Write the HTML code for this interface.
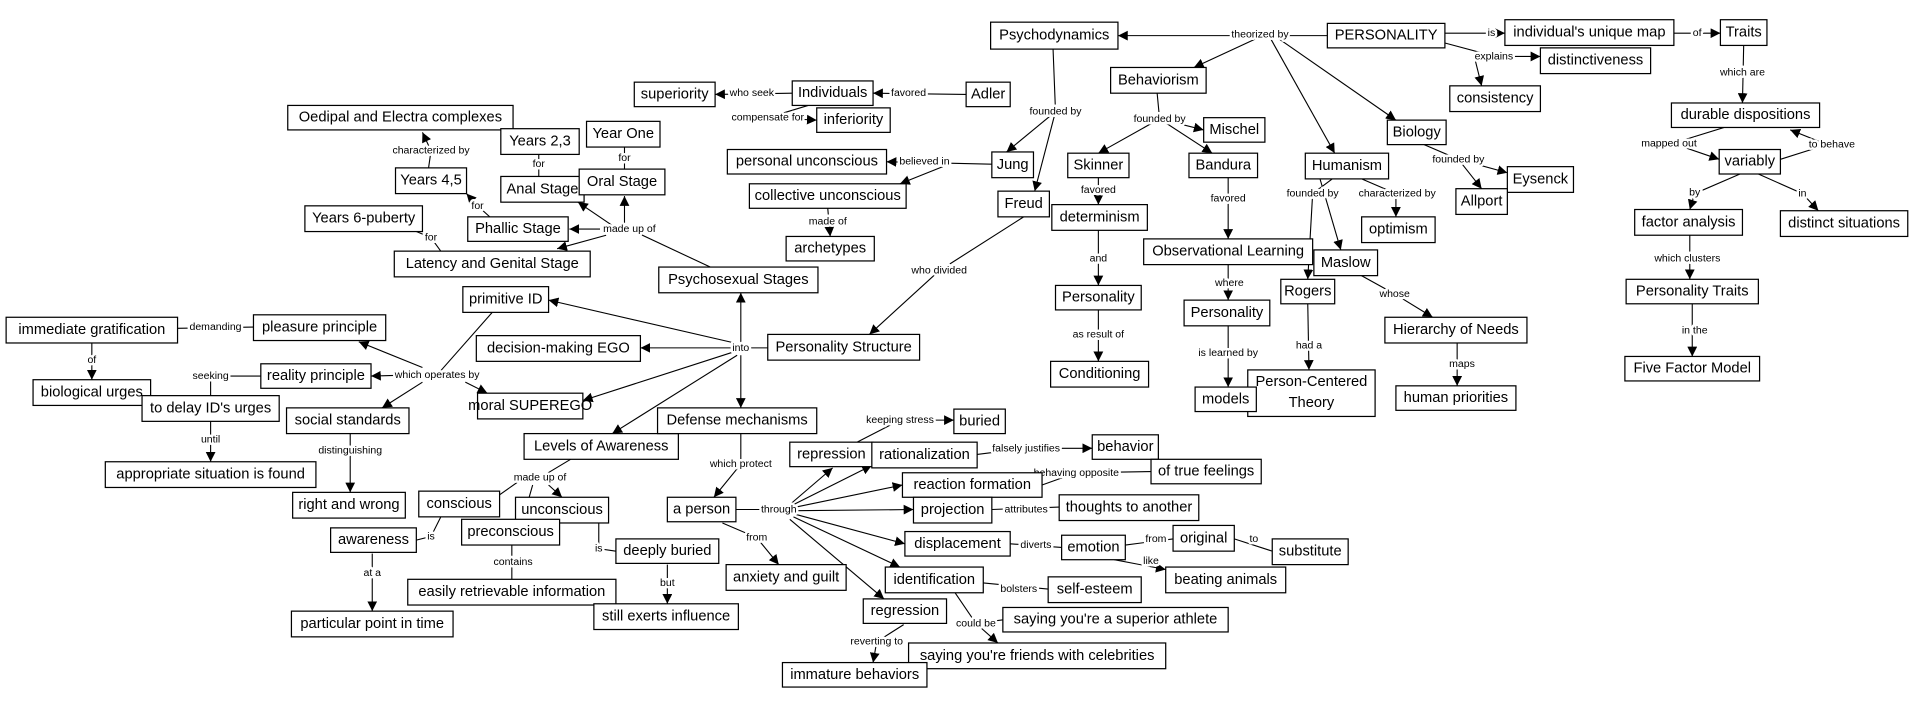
<!DOCTYPE html>
<html><head><meta charset="utf-8"><style>
html,body{margin:0;padding:0;background:#fff;}
svg{display:block;}
.b rect{fill:#fff;stroke:#000;stroke-width:1;}
.b text{font-family:"Liberation Sans",Arial,sans-serif;font-size:12px;text-anchor:middle;dominant-baseline:central;fill:#000;}
.e path{fill:none;stroke:#000;stroke-width:0.9;}
.l{font-family:"Liberation Sans",Arial,sans-serif;font-size:8.6px;text-anchor:middle;dominant-baseline:central;fill:#000;stroke:#fff;stroke-width:4px;paint-order:stroke;stroke-linejoin:round;}
</style></head><body>
<svg width="1920" height="708" viewBox="0 0 1568 578" xmlns="http://www.w3.org/2000/svg">
<defs><marker id="a" viewBox="0 0 10 10" refX="10" refY="5" markerWidth="8" markerHeight="8" markerUnits="userSpaceOnUse" orient="auto"><path d="M0,0 L10,5 L0,10 z" fill="#000"/></marker></defs>
<g class="e">
<path d="M1084,29 L913,29" marker-end="url(#a)"/>
<path d="M1029,30 L975,55" marker-end="url(#a)"/>
<path d="M1038,32 L1090,125" marker-end="url(#a)"/>
<path d="M1045,32 L1140,98" marker-end="url(#a)"/>
<path d="M1180,27 L1229,27" marker-end="url(#a)"/>
<path d="M1367,27 L1405,27" marker-end="url(#a)"/>
<path d="M1180,35 L1221,46 L1258,46" marker-end="url(#a)"/>
<path d="M1205,50 L1210,70" marker-end="url(#a)"/>
<path d="M1424,37 L1423,84" marker-end="url(#a)"/>
<path d="M1408,104 L1366,117 L1404,130" marker-end="url(#a)"/>
<path d="M1454,130 L1492,118 L1462,106" marker-end="url(#a)"/>
<path d="M1421,142 L1384,158 L1380,171" marker-end="url(#a)"/>
<path d="M1436,142 L1472,158 L1485,172" marker-end="url(#a)"/>
<path d="M1380,192 L1380,228" marker-end="url(#a)"/>
<path d="M1382,248 L1382,291" marker-end="url(#a)"/>
<path d="M860,40 L862,91 L845,156" marker-end="url(#a)"/>
<path d="M862,91 L822,124" marker-end="url(#a)"/>
<path d="M945,76 L947,97 L983,106" marker-end="url(#a)"/>
<path d="M947,97 L897,125" marker-end="url(#a)"/>
<path d="M947,97 L990,125" marker-end="url(#a)"/>
<path d="M897,145 L897,167" marker-end="url(#a)"/>
<path d="M897,188 L897,233" marker-end="url(#a)"/>
<path d="M897,253 L897,295" marker-end="url(#a)"/>
<path d="M1003,145 L1003,195" marker-end="url(#a)"/>
<path d="M1003,216 L1003,245" marker-end="url(#a)"/>
<path d="M1003,266 L1003,316" marker-end="url(#a)"/>
<path d="M1088,146 L1072,158 L1068,228" marker-end="url(#a)"/>
<path d="M1078,146 L1095,204" marker-end="url(#a)"/>
<path d="M1112,146 L1140,158 L1140,177" marker-end="url(#a)"/>
<path d="M1110,224 L1139,240 L1170,259" marker-end="url(#a)"/>
<path d="M1068,248 L1069,302" marker-end="url(#a)"/>
<path d="M1190,280 L1190,315" marker-end="url(#a)"/>
<path d="M1163,118 L1191,130 L1231,141" marker-end="url(#a)"/>
<path d="M1191,130 L1210,154" marker-end="url(#a)"/>
<path d="M789,77 L713,76" marker-end="url(#a)"/>
<path d="M647,76 L584,77" marker-end="url(#a)"/>
<path d="M660,86 L627,96 L667,98" marker-end="url(#a)"/>
<path d="M810,134 L724,132" marker-end="url(#a)"/>
<path d="M770,136 L735,150" marker-end="url(#a)"/>
<path d="M676,170 L678,193" marker-end="url(#a)"/>
<path d="M836,177 L767,221 L710,273" marker-end="url(#a)"/>
<path d="M580,218 L514,187"/>
<path d="M510,182 L510,160" marker-end="url(#a)"/>
<path d="M500,184 L472,165" marker-end="url(#a)"/>
<path d="M490,187 L465,187" marker-end="url(#a)"/>
<path d="M495,192 L455,203" marker-end="url(#a)"/>
<path d="M510,138 L510,120"/>
<path d="M440,144 L440,126"/>
<path d="M400,177 L390,168 L381,158" marker-end="url(#a)"/>
<path d="M360,205 L352,194 L340,189"/>
<path d="M350,137 L352,123 L345,108" marker-end="url(#a)"/>
<path d="M627,284 L605,284"/>
<path d="M605,280 L605,239" marker-end="url(#a)"/>
<path d="M600,280 L448,245" marker-end="url(#a)"/>
<path d="M600,284 L523,284" marker-end="url(#a)"/>
<path d="M600,287 L476,327" marker-end="url(#a)"/>
<path d="M602,290 L500,354" marker-end="url(#a)"/>
<path d="M605,290 L605,333" marker-end="url(#a)"/>
<path d="M402,255 L357,306"/>
<path d="M340,306 L303,307" marker-end="url(#a)"/>
<path d="M345,300 L293,279" marker-end="url(#a)"/>
<path d="M345,312 L312,333" marker-end="url(#a)"/>
<path d="M380,312 L398,321" marker-end="url(#a)"/>
<path d="M207,267 L145,268"/>
<path d="M75,280 L75,310" marker-end="url(#a)"/>
<path d="M213,307 L172,307 L172,323"/>
<path d="M172,344 L172,377" marker-end="url(#a)"/>
<path d="M286,354 L286,402" marker-end="url(#a)"/>
<path d="M466,375 L441,390"/>
<path d="M435,396 L427,424" marker-end="url(#a)"/>
<path d="M448,396 L459,406" marker-end="url(#a)"/>
<path d="M425,392 L408,404"/>
<path d="M360,422 L352,438 L340,441"/>
<path d="M304,452 L304,499" marker-end="url(#a)"/>
<path d="M418,445 L418,473"/>
<path d="M489,427 L489,448 L503,450"/>
<path d="M545,461 L545,493" marker-end="url(#a)"/>
<path d="M605,354 L605,379 L583,406" marker-end="url(#a)"/>
<path d="M601,416 L636,416"/>
<path d="M645,412 L680,382" marker-end="url(#a)"/>
<path d="M648,412 L712,380" marker-end="url(#a)"/>
<path d="M650,414 L737,396" marker-end="url(#a)"/>
<path d="M650,417 L746,416" marker-end="url(#a)"/>
<path d="M650,420 L739,444" marker-end="url(#a)"/>
<path d="M648,422 L735,463" marker-end="url(#a)"/>
<path d="M645,424 L722,489" marker-end="url(#a)"/>
<path d="M700,361 L735,343 L779,343" marker-end="url(#a)"/>
<path d="M590,427 L618,439 L636,461" marker-end="url(#a)"/>
<path d="M798,371 L838,366 L892,366" marker-end="url(#a)"/>
<path d="M851,396 L879,386 L940,385"/>
<path d="M810,416 L865,414"/>
<path d="M825,444 L867,447"/>
<path d="M919,445 L958,440"/>
<path d="M1008,440 L1039,450"/>
<path d="M910,457 L952,465" marker-end="url(#a)"/>
<path d="M803,476 L856,481"/>
<path d="M780,484 L797,509 L820,506"/>
<path d="M797,509 L815,525" marker-end="url(#a)"/>
<path d="M738,510 L716,524 L713,541" marker-end="url(#a)"/>
</g>
<g>
<text class="l" x="1029" y="28">theorized by</text>
<text class="l" x="1218" y="27">is</text>
<text class="l" x="1386" y="27">of</text>
<text class="l" x="1220" y="46">explains</text>
<text class="l" x="1423" y="59">which are</text>
<text class="l" x="1363" y="117">mapped out</text>
<text class="l" x="1496" y="118">to behave</text>
<text class="l" x="1384" y="157">by</text>
<text class="l" x="1472" y="158">in</text>
<text class="l" x="1378" y="211">which clusters</text>
<text class="l" x="1384" y="270">in the</text>
<text class="l" x="862" y="91">founded by</text>
<text class="l" x="947" y="97">founded by</text>
<text class="l" x="897" y="155">favored</text>
<text class="l" x="897" y="211">and</text>
<text class="l" x="897" y="273">as result of</text>
<text class="l" x="1003" y="162">favored</text>
<text class="l" x="1004" y="231">where</text>
<text class="l" x="1003" y="288">is learned by</text>
<text class="l" x="1072" y="158">founded by</text>
<text class="l" x="1141" y="158">characterized by</text>
<text class="l" x="1139" y="240">whose</text>
<text class="l" x="1069" y="282">had a</text>
<text class="l" x="1194" y="297">maps</text>
<text class="l" x="1191" y="130">founded by</text>
<text class="l" x="742" y="76">favored</text>
<text class="l" x="614" y="76">who seek</text>
<text class="l" x="627" y="96">compensate for</text>
<text class="l" x="755" y="132">believed in</text>
<text class="l" x="676" y="181">made of</text>
<text class="l" x="767" y="221">who divided</text>
<text class="l" x="514" y="187">made up of</text>
<text class="l" x="510" y="129">for</text>
<text class="l" x="440" y="134">for</text>
<text class="l" x="390" y="168">for</text>
<text class="l" x="352" y="194">for</text>
<text class="l" x="352" y="123">characterized by</text>
<text class="l" x="605" y="284">into</text>
<text class="l" x="357" y="306">which operates by</text>
<text class="l" x="176" y="267">demanding</text>
<text class="l" x="75" y="294">of</text>
<text class="l" x="172" y="307">seeking</text>
<text class="l" x="172" y="359">until</text>
<text class="l" x="286" y="368">distinguishing</text>
<text class="l" x="441" y="390">made up of</text>
<text class="l" x="352" y="438">is</text>
<text class="l" x="304" y="468">at a</text>
<text class="l" x="419" y="459">contains</text>
<text class="l" x="489" y="448">is</text>
<text class="l" x="545" y="476">but</text>
<text class="l" x="605" y="379">which protect</text>
<text class="l" x="636" y="416">through</text>
<text class="l" x="618" y="439">from</text>
<text class="l" x="735" y="343">keeping stress</text>
<text class="l" x="838" y="366">falsely justifies</text>
<text class="l" x="879" y="386">behaving opposite</text>
<text class="l" x="838" y="416">attributes</text>
<text class="l" x="846" y="445">diverts</text>
<text class="l" x="944" y="440">from</text>
<text class="l" x="1024" y="440">to</text>
<text class="l" x="940" y="458">like</text>
<text class="l" x="832" y="481">bolsters</text>
<text class="l" x="797" y="509">could be</text>
<text class="l" x="716" y="524">reverting to</text>
</g>
<g class="b">
<rect x="809" y="18" width="104" height="22"/><text x="861" y="29">Psychodynamics</text>
<rect x="1084" y="19" width="96" height="20"/><text x="1132" y="29">PERSONALITY</text>
<rect x="1229" y="16" width="138" height="21"/><text x="1298" y="26.5">individual's unique map</text>
<rect x="1405" y="16" width="38" height="21"/><text x="1424" y="26.5">Traits</text>
<rect x="1258" y="39" width="90" height="21"/><text x="1303" y="49.5">distinctiveness</text>
<rect x="1184" y="70" width="74" height="21"/><text x="1221" y="80.5">consistency</text>
<rect x="1365" y="84" width="121" height="20"/><text x="1425.5" y="94">durable dispositions</text>
<rect x="1404" y="122" width="50" height="20"/><text x="1429" y="132">variably</text>
<rect x="1335" y="171" width="88" height="21"/><text x="1379" y="181.5">factor analysis</text>
<rect x="1454" y="172" width="104" height="21"/><text x="1506" y="182.5">distinct situations</text>
<rect x="1328" y="228" width="108" height="20"/><text x="1382" y="238">Personality Traits</text>
<rect x="1327" y="291" width="110" height="20"/><text x="1382" y="301">Five Factor Model</text>
<rect x="907" y="55" width="78" height="21"/><text x="946" y="65.5">Behaviorism</text>
<rect x="1133" y="98" width="48" height="20"/><text x="1157" y="108">Biology</text>
<rect x="1231" y="136" width="54" height="21"/><text x="1258" y="146.5">Eysenck</text>
<rect x="1189" y="154" width="42" height="21"/><text x="1210" y="164.5">Allport</text>
<rect x="1066" y="125" width="68" height="21"/><text x="1100" y="135.5">Humanism</text>
<rect x="1112" y="177" width="60" height="21"/><text x="1142" y="187.5">optimism</text>
<rect x="1073" y="204" width="52" height="21"/><text x="1099" y="214.5">Maslow</text>
<rect x="1046" y="228" width="44" height="20"/><text x="1068" y="238">Rogers</text>
<rect x="1131" y="259" width="116" height="21"/><text x="1189" y="269.5">Hierarchy of Needs</text>
<rect x="1140" y="315" width="98" height="20"/><text x="1189" y="325">human priorities</text>
<rect x="1019" y="302" width="104" height="38"/><text x="1071" y="312">Person-Centered</text><text x="1071" y="329">Theory</text>
<rect x="983" y="96" width="50" height="20"/><text x="1008" y="106">Mischel</text>
<rect x="872" y="125" width="50" height="20"/><text x="897" y="135">Skinner</text>
<rect x="971" y="125" width="56" height="20"/><text x="999" y="135">Bandura</text>
<rect x="859" y="167" width="78" height="21"/><text x="898" y="177.5">determinism</text>
<rect x="934" y="195" width="138" height="21"/><text x="1003" y="205.5">Observational Learning</text>
<rect x="862" y="233" width="70" height="20"/><text x="897" y="243">Personality</text>
<rect x="967" y="245" width="70" height="21"/><text x="1002" y="255.5">Personality</text>
<rect x="858" y="295" width="80" height="21"/><text x="898" y="305.5">Conditioning</text>
<rect x="976" y="316" width="50" height="20"/><text x="1001" y="326">models</text>
<rect x="789" y="67" width="36" height="20"/><text x="807" y="77">Adler</text>
<rect x="647" y="66" width="66" height="20"/><text x="680" y="76">Individuals</text>
<rect x="518" y="67" width="66" height="20"/><text x="551" y="77">superiority</text>
<rect x="667" y="88" width="60" height="20"/><text x="697" y="98">inferiority</text>
<rect x="810" y="124" width="34" height="21"/><text x="827" y="134.5">Jung</text>
<rect x="594" y="122" width="130" height="20"/><text x="659" y="132">personal unconscious</text>
<rect x="612" y="150" width="128" height="20"/><text x="676" y="160">collective unconscious</text>
<rect x="642" y="193" width="72" height="20"/><text x="678" y="203">archetypes</text>
<rect x="815" y="156" width="42" height="21"/><text x="836" y="166.5">Freud</text>
<rect x="538" y="218" width="130" height="21"/><text x="603" y="228.5">Psychosexual Stages</text>
<rect x="627" y="273" width="124" height="21"/><text x="689" y="283.5">Personality Structure</text>
<rect x="235" y="86" width="184" height="20"/><text x="327" y="96">Oedipal and Electra complexes</text>
<rect x="409" y="105" width="64" height="21"/><text x="441" y="115.5">Years 2,3</text>
<rect x="479" y="99" width="60" height="21"/><text x="509" y="109.5">Year One</text>
<rect x="323" y="137" width="58" height="21"/><text x="352" y="147.5">Years 4,5</text>
<rect x="409" y="144" width="68" height="21"/><text x="443" y="154.5">Anal Stage</text>
<rect x="473" y="138" width="70" height="21"/><text x="508" y="148.5">Oral Stage</text>
<rect x="249" y="168" width="96" height="21"/><text x="297" y="178.5">Years 6-puberty</text>
<rect x="382" y="177" width="82" height="20"/><text x="423" y="187">Phallic Stage</text>
<rect x="322" y="205" width="160" height="21"/><text x="402" y="215.5">Latency and Genital Stage</text>
<rect x="378" y="234" width="70" height="21"/><text x="413" y="244.5">primitive ID</text>
<rect x="5" y="259" width="140" height="21"/><text x="75" y="269.5">immediate gratification</text>
<rect x="207" y="257" width="108" height="21"/><text x="261" y="267.5">pleasure principle</text>
<rect x="389" y="274" width="134" height="21"/><text x="456" y="284.5">decision-making EGO</text>
<rect x="213" y="297" width="90" height="20"/><text x="258" y="307">reality principle</text>
<rect x="27" y="310" width="96" height="21"/><text x="75" y="320.5">biological urges</text>
<rect x="116" y="323" width="112" height="21"/><text x="172" y="333.5">to delay ID's urges</text>
<rect x="390" y="321" width="86" height="21"/><text x="433" y="331.5">moral SUPEREGO</text>
<rect x="234" y="333" width="100" height="21"/><text x="284" y="343.5">social standards</text>
<rect x="86" y="377" width="172" height="21"/><text x="172" y="387.5">appropriate situation is found</text>
<rect x="239" y="402" width="92" height="21"/><text x="285" y="412.5">right and wrong</text>
<rect x="428" y="354" width="126" height="21"/><text x="491" y="364.5">Levels of Awareness</text>
<rect x="537" y="333" width="130" height="21"/><text x="602" y="343.5">Defense mechanisms</text>
<rect x="342" y="401" width="66" height="21"/><text x="375" y="411.5">conscious</text>
<rect x="421" y="406" width="76" height="21"/><text x="459" y="416.5">unconscious</text>
<rect x="377" y="424" width="80" height="21"/><text x="417" y="434.5">preconscious</text>
<rect x="270" y="431" width="70" height="20"/><text x="305" y="441">awareness</text>
<rect x="503" y="440" width="84" height="20"/><text x="545" y="450">deeply buried</text>
<rect x="333" y="473" width="170" height="21"/><text x="418" y="483.5">easily retrievable information</text>
<rect x="485" y="493" width="118" height="21"/><text x="544" y="503.5">still exerts influence</text>
<rect x="238" y="499" width="132" height="21"/><text x="304" y="509.5">particular point in time</text>
<rect x="545" y="406" width="56" height="20"/><text x="573" y="416">a person</text>
<rect x="593" y="461" width="98" height="21"/><text x="642" y="471.5">anxiety and guilt</text>
<rect x="645" y="361" width="68" height="20"/><text x="679" y="371">repression</text>
<rect x="712" y="361" width="86" height="21"/><text x="755" y="371.5">rationalization</text>
<rect x="779" y="334" width="42" height="20"/><text x="800" y="344">buried</text>
<rect x="892" y="355" width="54" height="20"/><text x="919" y="365">behavior</text>
<rect x="940" y="375" width="90" height="20"/><text x="985" y="385">of true feelings</text>
<rect x="737" y="386" width="114" height="20"/><text x="794" y="396">reaction formation</text>
<rect x="746" y="406" width="64" height="21"/><text x="778" y="416.5">projection</text>
<rect x="865" y="404" width="114" height="21"/><text x="922" y="414.5">thoughts to another</text>
<rect x="739" y="434" width="86" height="20"/><text x="782" y="444">displacement</text>
<rect x="867" y="437" width="52" height="20"/><text x="893" y="447">emotion</text>
<rect x="958" y="429" width="50" height="21"/><text x="983" y="439.5">original</text>
<rect x="1039" y="440" width="62" height="21"/><text x="1070" y="450.5">substitute</text>
<rect x="952" y="463" width="98" height="21"/><text x="1001" y="473.5">beating animals</text>
<rect x="856" y="471" width="76" height="21"/><text x="894" y="481.5">self-esteem</text>
<rect x="723" y="463" width="80" height="21"/><text x="763" y="473.5">identification</text>
<rect x="705" y="489" width="68" height="20"/><text x="739" y="499">regression</text>
<rect x="819" y="496" width="184" height="20"/><text x="911" y="506">saying you're a superior athlete</text>
<rect x="742" y="525" width="210" height="21"/><text x="847" y="535.5">saying you're friends with celebrities</text>
<rect x="639" y="541" width="118" height="20"/><text x="698" y="551">immature behaviors</text>
</g>
</svg>
</body></html>
